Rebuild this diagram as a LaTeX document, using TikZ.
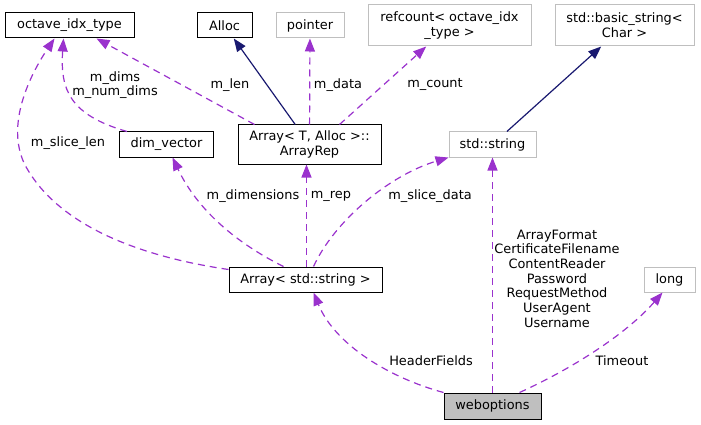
\documentclass[tikz,border=0pt]{standalone}
\usepackage{fontspec}
\setmainfont{DejaVu Sans}
\usepackage{xcolor}
\usetikzlibrary{arrows.meta}

\definecolor{usepurple}{HTML}{9A32CD}
\definecolor{inhnavy}{HTML}{191970}

\begin{document}
\begin{tikzpicture}
	[
	x=1pt, y=-1pt,
	font=\fontsize{12.9}{14.7}\selectfont,
	cls/.style={
		draw=black,
		line width=1pt,
		fill=white,
		minimum height=25pt,
		inner sep=0pt,
		align=center
	},
	undoc/.style={
		cls,
		draw=gray!50
	},
	focus/.style={
		cls,
		fill=gray!50
	},
	lbl/.style={
		inner sep=0pt,
		align=center
	},
	uses/.style={
		-{Triangle[length=13pt,width=10pt]},
		usepurple,
		line width=1.2pt,
		dash pattern=on 7pt off 5pt
	},
	inherit/.style={
		-{Triangle[length=13pt,width=10pt]},
		inhnavy,
		line width=1.2pt
	}
	]
	\useasboundingbox (0,0) rectangle (701,425);
	
	% Top row
	\node[cls, minimum width=129pt] (octave) at (69.5,25.5)
	{octave\_idx\_type};
	
	\node[cls, minimum width=55pt] (alloc) at (224.5,25.5)
	{Alloc};
	
	\node[undoc, minimum width=68pt] (pointer) at (310,25.5)
	{pointer};
	
	\node[undoc, minimum width=163pt, minimum height=41pt] (refcount) at (449.5,25.5)
	{refcount< octave\_idx\\\_type >};
	
	\node[undoc, minimum width=139pt, minimum height=41pt] (basicstr) at (624.5,25.5)
	{std::basic\_string<\\Char >};
	
	% Middle row
	\node[cls, minimum width=94pt] (dimvec) at (166.5,144.5)
	{dim\_vector};
	
	\node[cls, minimum width=143pt, minimum height=39pt] (arrayrep) at (309.5,144.5)
	{Array< T, Alloc >::\\ArrayRep};
	
	\node[undoc, minimum width=87pt] (stdstring) at (492.5,144.5)
	{std::string};
	
	% Lower rows
	\node[cls, minimum width=153pt] (strarray) at (305.5,279.5)
	{Array< std::string >};
	
	\node[undoc, minimum width=51pt] (long) at (669.5,279.5)
	{long};
	
	\node[focus, minimum width=97pt, minimum height=26pt] (weboptions) at (492.5,406)
	{weboptions};
	
	% Member labels
	\node[lbl] (l_dims) at (115,85) {m\_dims\\m\_num\_dims};
	\node[lbl] (l_len) at (230,85) {m\_len};
	\node[lbl] (l_data) at (338,85) {m\_data};
	\node[lbl] (l_count) at (435,84) {m\_count};
	\node[lbl] (l_slicelen) at (68,143) {m\_slice\_len};
	\node[lbl] (l_dimensions) at (253,196) {m\_dimensions};
	\node[lbl] (l_rep) at (331,196) {m\_rep};
	\node[lbl] (l_slicedata) at (430,196) {m\_slice\_data};
	\node[lbl] (l_strings) at (557,278.5)
	{ArrayFormat\\CertificateFilename\\ContentReader\\Password\\RequestMethod\\UserAgent\\Username};
	\node[lbl] (l_header) at (431,361) {HeaderFields};
	\node[lbl] (l_timeout) at (622,361) {Timeout};
	
	% Inheritance
	\draw[inherit] (arrayrep) -- (alloc);
	\draw[inherit] (stdstring) -- (basicstr);
	
	% Usage
	\draw[uses] (arrayrep) -- (pointer);
	\draw[uses] ([xshift=30pt]arrayrep.north) -- (refcount);
	\draw[uses] ([xshift=17pt]arrayrep.north west) -- ([xshift=27pt]octave.south);
	\draw[uses] ([xshift=8pt]dimvec.north west) .. controls (70,115) and (60,90) .. ([xshift=-6pt]octave.south);
	\draw[uses] ([yshift=10pt]strarray.west) .. controls (150,258) and (60,230) .. (25,165)
		.. controls (5,125) and (30,75) .. ([xshift=-15pt]octave.south);
	\draw[uses] ([xshift=-22pt]strarray.north) .. controls (230,240) and (195,205) .. ([xshift=6pt]dimvec.south);
	\draw[uses] ([xshift=1pt]strarray.north) -- ([xshift=-3pt]arrayrep.south);
	\draw[uses] ([xshift=8pt]strarray.north) .. controls (335,220) and (390,175) .. (stdstring.south west);
	\draw[uses] (weboptions.north west) .. controls (390,378) and (335,345) .. ([xshift=8pt]strarray.south);
	\draw[uses] (weboptions) -- (stdstring);
	\draw[uses] ([xshift=27pt]weboptions.north) .. controls (580,365) and (630,330) .. ([xshift=-7pt]long.south);
	
\end{tikzpicture}
\end{document}
